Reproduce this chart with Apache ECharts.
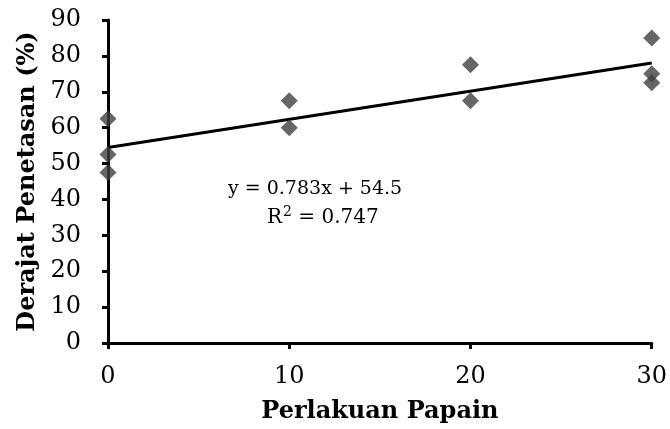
<!DOCTYPE html>
<html>
<head>
<meta charset="utf-8">
<script src="https://cdn.jsdelivr.net/npm/echarts@6/dist/echarts.min.js"></script>
<style>html,body{margin:0;padding:0;background:#fff;}#c{width:670px;height:429px;}</style>
</head>
<body>
<div id="c"></div>
<script>
var xValues = [0, 0, 0, 10, 10, 20, 20, 30, 30, 30];
var yValues = [62.5, 52.5, 47.5, 67.5, 60, 77.5, 67.5, 85, 75, 72.5];
var trendSlope = [0.783];
var trendIntercept = [54.5];
var trendRange = [0, 30];
var eqLabels = ["y = 0.783x + 54.5", "R{s|2} = 0.747"];
var xTicks = [0, 10, 20, 30];
var yTicks = [0, 10, 20, 30, 40, 50, 60, 70, 80, 90];

var pts = xValues.map(function (x, i) { return [x, yValues[i]]; });
var trend = trendRange.map(function (x) { return [x, trendSlope[0] * x + trendIntercept[0]]; });
var F = 'DejaVu Serif';
var chart = echarts.init(document.getElementById('c'));
chart.setOption({
  animation: false,
  grid: { left: 108, right: 15, top: 20, bottom: 82 },
  xAxis: {
    type: 'value', min: xTicks[0], max: xTicks[xTicks.length - 1], interval: xTicks[1] - xTicks[0],
    name: 'Perlakuan Papain', nameLocation: 'middle', nameGap: 57,
    nameTextStyle: { fontFamily: F, fontWeight: 'bold', fontSize: 24, color: '#000' },
    axisLine: { show: true, lineStyle: { color: '#000', width: 3 } },
    axisTick: { show: true, length: 6, lineStyle: { color: '#000', width: 3 } },
    axisLabel: { fontFamily: F, fontSize: 24, color: '#000', margin: 22 },
    splitLine: { show: false }
  },
  yAxis: {
    type: 'value', min: yTicks[0], max: yTicks[yTicks.length - 1], interval: yTicks[1] - yTicks[0],
    name: 'Derajat Penetasan (%)', nameLocation: 'middle', nameGap: 67,
    nameTextStyle: { fontFamily: F, fontWeight: 'bold', fontSize: 24, color: '#000' },
    axisLine: { show: true, lineStyle: { color: '#000', width: 3 } },
    axisTick: { show: true, length: 6, lineStyle: { color: '#000', width: 3 } },
    axisLabel: { fontFamily: F, fontSize: 24, color: '#000', margin: 27 },
    splitLine: { show: false }
  },
  series: [
    {
      type: 'line', data: trend, symbol: 'none', silent: true,
      lineStyle: { color: '#000', width: 3 }, z: 2
    },
    {
      type: 'scatter', data: pts, symbol: 'diamond', symbolSize: 17,
      itemStyle: { color: '#404040' }, z: 3
    }
  ],
  graphic: [
    { type: 'text', left: 228, top: 180, style: { text: eqLabels[0], fontFamily: F, fontSize: 19, fill: '#000' } },
    { type: 'text', left: 267, top: 205, style: {
        text: eqLabels[1], fontFamily: F, fontSize: 20, fill: '#000',
        rich: { s: { fontFamily: F, fontSize: 14, fill: '#000', padding: [0, 0, 12, 1] } }
    } }
  ]
});
</script>
</body>
</html>
